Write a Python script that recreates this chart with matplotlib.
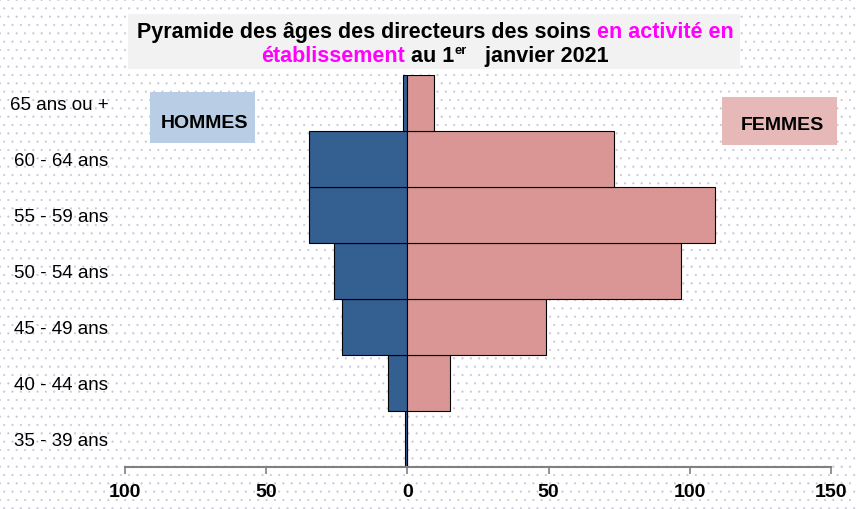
import matplotlib
matplotlib.use("Agg")
import matplotlib.pyplot as plt
from matplotlib.patches import Rectangle

plt.rcParams['font.family'] = ['Liberation Sans', 'DejaVu Sans']

categories = ["35 - 39 ans", "40 - 44 ans", "45 - 49 ans", "50 - 54 ans",
              "55 - 59 ans", "60 - 64 ans", "65 ans ou +"]
hommes = [1, 7, 23, 26, 35, 35, 1.5]
femmes = [0, 15, 49, 97, 109, 73, 9.5]
xticks = [-100, -50, 0, 50, 100, 150]
xticklabels = ["100", "50", "0", "50", "100", "150"]

W, H = 856, 509
fig = plt.figure(figsize=(W/100, H/100), dpi=100)
fig.patch.set_facecolor('white')

# dotted background
plt.rcParams['hatch.linewidth'] = 0.3
bg = Rectangle((0, 0), 1, 1, transform=fig.transFigure, facecolor='white',
               edgecolor='#c4c4dc', hatch='..', linewidth=0, zorder=-10)
fig.patches.append(bg)

ax = fig.add_axes([125/W, 1-467/H, (831-125)/W, (467-75)/H])
ax.set_facecolor('none')
y = list(range(len(categories)))
ax.barh(y, [-h for h in hommes], height=1.0, color='#335f91', edgecolor='black', linewidth=0.8)
ax.barh(y, femmes, height=1.0, color='#d99694', edgecolor='black', linewidth=0.8)

ax.set_xlim(-100, 150)
ax.set_ylim(-0.5, len(categories) - 0.5)
ax.set_xticks(xticks)
ax.set_xticklabels(xticklabels, fontsize=14, fontweight='bold')
ax.set_yticks(y)
ax.set_yticklabels(categories, fontsize=13.5)
ax.tick_params(axis='y', length=0, pad=12)
ax.tick_params(axis='x', direction='out', length=5, width=1.2, color='#808080', pad=7)
for s in ['top', 'right', 'left']:
    ax.spines[s].set_visible(False)
ax.spines['bottom'].set_color('#808080')
ax.spines['bottom'].set_linewidth(1.5)

# Legend boxes
fig.patches.append(Rectangle((150/W, 1-143/H), 105/W, 51/H, transform=fig.transFigure,
                             facecolor='#b9cde5', edgecolor='none', zorder=5))
fig.text(204/W, 1-124/H, "HOMMES", ha='center', va='center', fontsize=14, fontweight='bold', zorder=6)
fig.patches.append(Rectangle((722/W, 1-145/H), 115/W, 48/H, transform=fig.transFigure,
                             facecolor='#e6b9b8', edgecolor='none', zorder=5))
fig.text(782/W, 1-125/H, "FEMMES", ha='center', va='center', fontsize=14, fontweight='bold', zorder=6)

# Title box
fig.patches.append(Rectangle((128/W, 1-69/H), (740-128)/W, (69-14)/H, transform=fig.transFigure,
                             facecolor='#f2f2f2', edgecolor='none', zorder=5))

renderer = fig.canvas.get_renderer()
def rich_line(parts, yc, xc, fs=15.5):
    texts = []
    widths = []
    for txt, col, sup in parts:
        size = fs * 0.6 if sup else fs
        t = fig.text(0, yc, txt, color=col, fontsize=size, fontweight='bold',
                     ha='left', va='baseline', zorder=6)
        bb = t.get_window_extent(renderer)
        texts.append((t, sup))
        widths.append(bb.width / W)
    total = sum(widths)
    x = xc - total / 2
    for (t, sup), w in zip(texts, widths):
        yy = yc + (8/H if sup else 0)
        t.set_position((x, yy))
        x += w

MAG = '#ff00ff'
rich_line([("Pyramide des âges des directeurs des soins ", 'black', False),
           ("en activité en", MAG, False)], 1-38/H, 435/W)
rich_line([("établissement", MAG, False), (" au 1", 'black', False),
           ("er", 'black', True), ("   janvier 2021", 'black', False)], 1-62/H, 435/W)

fig.savefig("out.png", dpi=100)
